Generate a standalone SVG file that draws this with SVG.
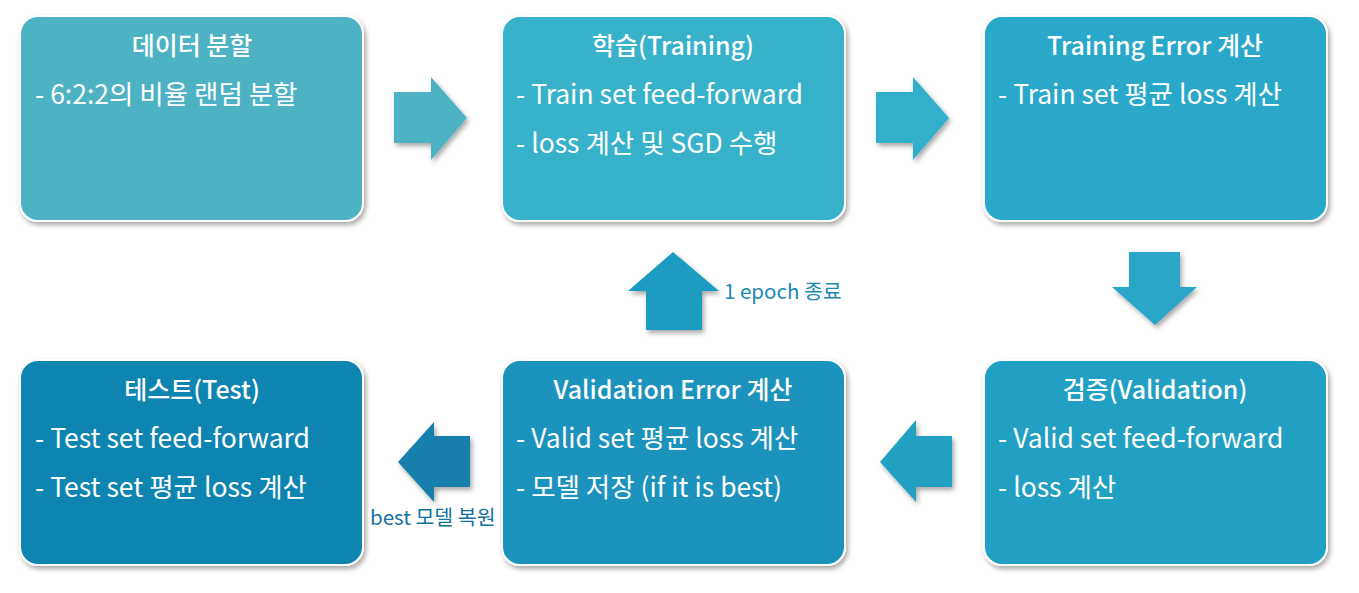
<svg xmlns="http://www.w3.org/2000/svg" width="1359" height="593" viewBox="0 0 1359 593">
<defs>
<filter id="sh" x="-10%" y="-10%" width="125%" height="130%">
<feDropShadow dx="2" dy="3" stdDeviation="2.5" flood-color="#000" flood-opacity="0.35"/>
</filter>
<style>
.box{stroke:#fff;stroke-width:2;filter:url(#sh)}
.arr{filter:url(#sh)}
.t{font-family:"Noto Sans CJK KR","Noto Sans",sans-serif;font-weight:500;font-size:25px;fill:#fff;text-anchor:middle}
.b{font-family:"Noto Sans CJK KR","Noto Sans",sans-serif;font-size:26.5px;fill:#fff}
.lbl{font-family:"Noto Sans CJK KR","Noto Sans",sans-serif;font-size:20.5px}
</style>
</defs>
<rect width="1359" height="593" fill="#fff"/>
<g id="n1">
<rect class="box" x="20" y="16" width="343" height="205" rx="18" fill="#4db3c4"/>
<text class="t" x="192" y="55">데이터 분할</text>
<text class="b" x="35" y="104">- 6:2:2의 비율 랜덤 분할</text>
</g>
<g id="n2">
<rect class="box" x="502" y="16" width="343" height="205" rx="18" fill="#37b2ca"/>
<text class="t" x="673" y="55">학습(Training)</text>
<text class="b" x="516" y="104">- Train set feed-forward</text>
<text class="b" x="516" y="153">- loss 계산 및 SGD 수행</text>
</g>
<g id="n3">
<rect class="box" x="984" y="16" width="343" height="205" rx="18" fill="#2aa8c9"/>
<text class="t" x="1155" y="55">Training Error 계산</text>
<text class="b" x="998" y="104">- Train set 평균 loss 계산</text>
</g>
<g id="n4">
<rect class="box" x="984" y="360" width="343" height="205" rx="18" fill="#21a0c3"/>
<text class="t" x="1155" y="399">검증(Validation)</text>
<text class="b" x="998" y="448">- Valid set feed-forward</text>
<text class="b" x="998" y="497">- loss 계산</text>
</g>
<g id="n5">
<rect class="box" x="502" y="360" width="343" height="205" rx="18" fill="#1a93bc"/>
<text class="t" x="673" y="399">Validation Error 계산</text>
<text class="b" x="516" y="448">- Valid set 평균 loss 계산</text>
<text class="b" x="516" y="497">- 모델 저장 (if it is best)</text>
</g>
<g id="n6">
<rect class="box" x="20" y="360" width="343" height="205" rx="18" fill="#0f85b0"/>
<text class="t" x="192" y="399">테스트(Test)</text>
<text class="b" x="35" y="448">- Test set feed-forward</text>
<text class="b" x="35" y="497">- Test set 평균 loss 계산</text>
</g>
<g id="connectors">
<polygon class="arr" fill="#4db3c4" points="394,92 431,92 431,77 467,118 431,160 431,143 394,143"/>
<polygon class="arr" fill="#33afca" points="876,92 913,92 913,77 949,118 913,160 913,143 876,143"/>
<polygon class="arr" fill="#2aa6c8" points="1129,252 1180,252 1180,287 1197,287 1155,325 1112,287 1129,287"/>
<polygon class="arr" fill="#22a0c2" points="952,436 916,436 916,420 880,462 916,502 916,487 952,487"/>
<polygon class="arr" fill="#1f9cc0" points="646,330 702,330 702,291 719,291 673,252 628,291 646,291"/>
<polygon class="arr" fill="#137fac" points="470,436 434,436 434,422 398,462 434,502 434,487 470,487"/>
<text class="lbl" x="724" y="299" fill="#1b8ab0">1 epoch 종료</text>
<text class="lbl" x="370" y="525" fill="#1272a0">best 모델 복원</text>
</g>
</svg>
